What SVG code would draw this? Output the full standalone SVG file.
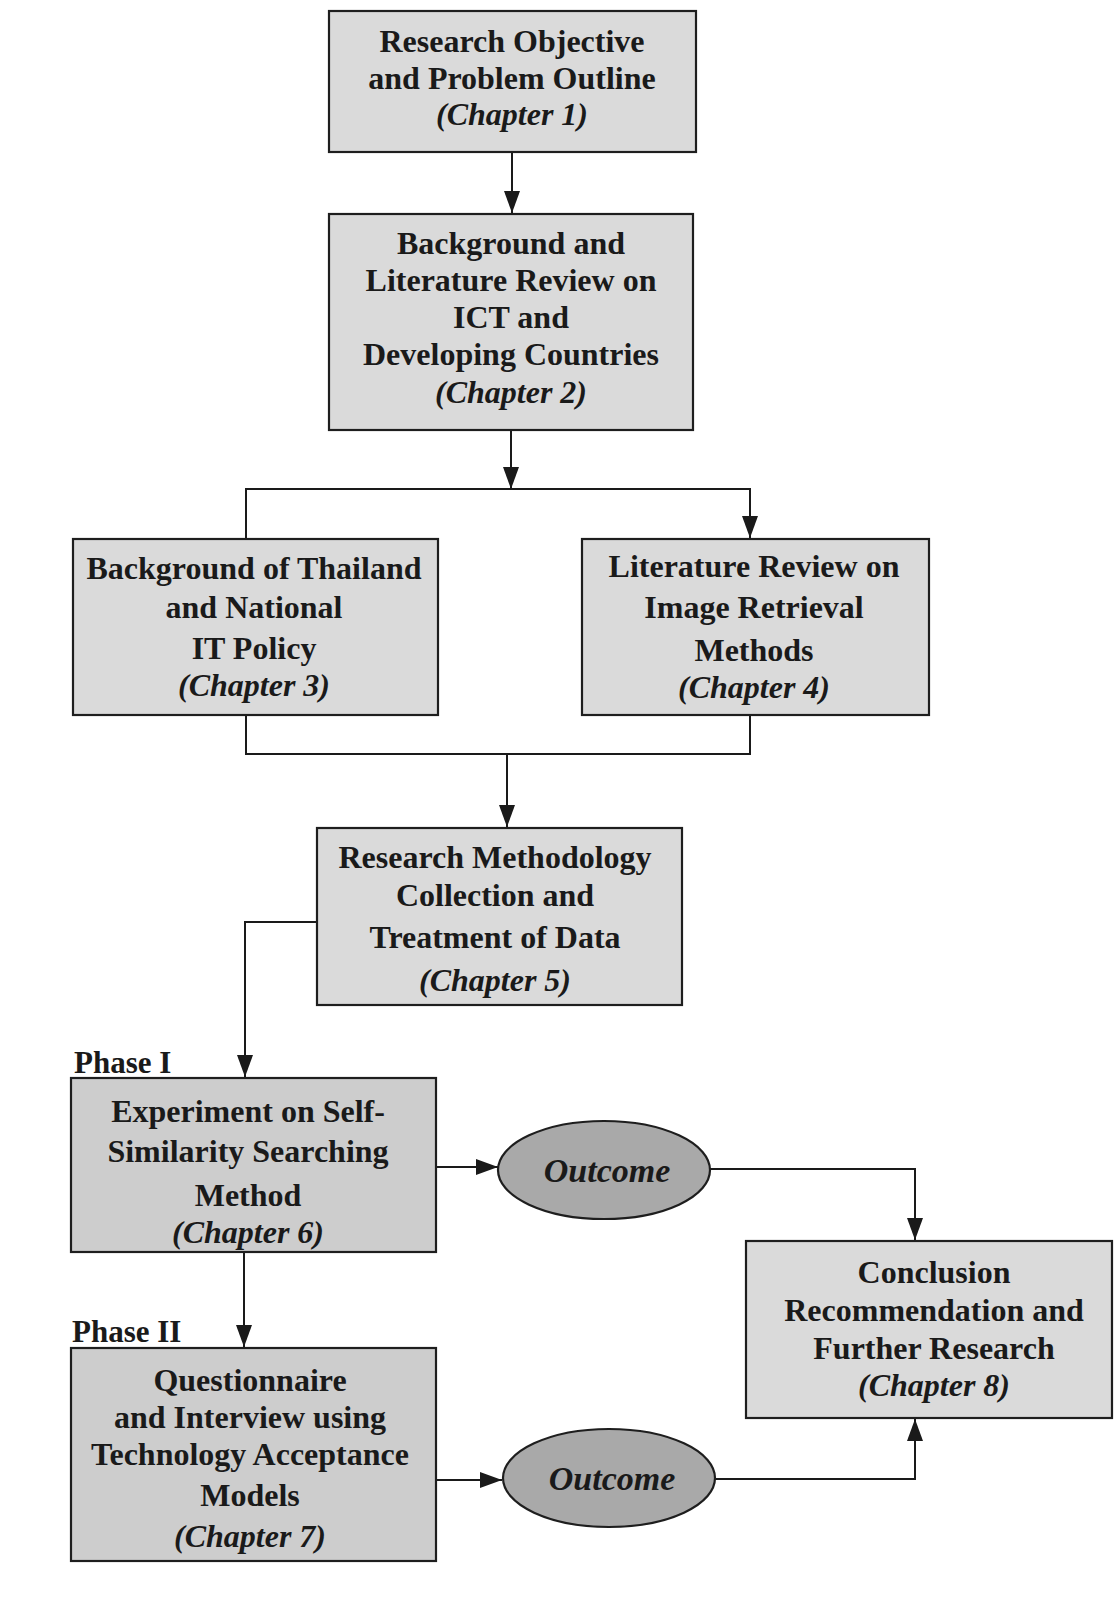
<svg xmlns="http://www.w3.org/2000/svg" width="1118" height="1613" viewBox="0 0 1118 1613">
  <style>
    .box { fill: #dadada; stroke: #1e1e1e; stroke-width: 2.2; }
    .box.dark { fill: #cdcdcd; }
    .oval { fill: #a9a9a9; stroke: #1e1e1e; stroke-width: 2.2; }
    .wire { fill: none; stroke: #1a1a1a; stroke-width: 2; }
    text { font-family: "Liberation Serif", "Times New Roman", serif; font-weight: bold; font-size: 32px; fill: #1a1a1a; text-anchor: middle; }
    .ch { font-style: italic; }
    .oc { font-style: italic; font-size: 34px; }
    .phase { text-anchor: start; font-size: 31px; }
  </style>
  <defs>
    <marker id="arrow" viewBox="0 0 22 16" refX="22" refY="8" markerWidth="22" markerHeight="16" markerUnits="userSpaceOnUse" orient="auto">
      <path d="M0,0 L22,8 L0,16 Z" fill="#1a1a1a"/>
    </marker>
  </defs>

  <rect width="1118" height="1613" fill="#ffffff"/>

  <!-- connectors -->
  <g id="connectors">
    <line class="wire" x1="512" y1="152" x2="512" y2="213" marker-end="url(#arrow)"/>
    <line class="wire" x1="511" y1="430" x2="511" y2="489" marker-end="url(#arrow)"/>
    <polyline class="wire" points="246,538 246,489 750,489 750,538" marker-start="url(#arrow)" marker-end="url(#arrow)"/>
    <polyline class="wire" points="246,715 246,754 750,754 750,715"/>
    <line class="wire" x1="507" y1="754" x2="507" y2="827" marker-end="url(#arrow)"/>
    <polyline class="wire" points="317,922 245,922 245,1077" marker-end="url(#arrow)"/>
    <line class="wire" x1="244" y1="1252" x2="244" y2="1347" marker-end="url(#arrow)"/>
    <line class="wire" x1="436" y1="1167" x2="498" y2="1167" marker-end="url(#arrow)"/>
    <polyline class="wire" points="710,1169 915,1169 915,1240" marker-end="url(#arrow)"/>
    <line class="wire" x1="436" y1="1480" x2="502" y2="1480" marker-end="url(#arrow)"/>
    <polyline class="wire" points="715,1479 915,1479 915,1419" marker-end="url(#arrow)"/>
  </g>

  <g id="ch1">
    <rect class="box" x="329" y="11" width="367" height="141"/>
    <text x="512" y="52">Research Objective</text>
    <text x="512" y="89">and Problem Outline</text>
    <text class="ch" x="512" y="125">(Chapter 1)</text>
  </g>

  <g id="ch2">
    <rect class="box" x="329" y="214" width="364" height="216"/>
    <text x="511" y="254">Background and</text>
    <text x="511" y="291">Literature Review on</text>
    <text x="511" y="328">ICT and</text>
    <text x="511" y="365">Developing Countries</text>
    <text class="ch" x="511" y="403">(Chapter 2)</text>
  </g>

  <g id="ch3">
    <rect class="box" x="73" y="539" width="365" height="176"/>
    <text x="254" y="579">Background of Thailand</text>
    <text x="254" y="618">and National</text>
    <text x="254" y="659">IT Policy</text>
    <text class="ch" x="254" y="696">(Chapter 3)</text>
  </g>

  <g id="ch4">
    <rect class="box" x="582" y="539" width="347" height="176"/>
    <text x="754" y="577">Literature Review on</text>
    <text x="754" y="618">Image Retrieval</text>
    <text x="754" y="661">Methods</text>
    <text class="ch" x="754" y="698">(Chapter 4)</text>
  </g>

  <g id="ch5">
    <rect class="box" x="317" y="828" width="365" height="177"/>
    <text x="495" y="868">Research Methodology</text>
    <text x="495" y="906">Collection and</text>
    <text x="495" y="948">Treatment of Data</text>
    <text class="ch" x="495" y="991">(Chapter 5)</text>
  </g>

  <g id="ch6">
    <text class="phase" x="74" y="1073">Phase I</text>
    <rect class="box dark" x="71" y="1078" width="365" height="174"/>
    <text x="248" y="1122">Experiment on Self-</text>
    <text x="248" y="1162">Similarity Searching</text>
    <text x="248" y="1206">Method</text>
    <text class="ch" x="248" y="1243">(Chapter 6)</text>
  </g>

  <g id="outcome1">
    <ellipse class="oval" cx="604" cy="1170" rx="106" ry="49"/>
    <text class="oc" x="607" y="1182">Outcome</text>
  </g>

  <g id="ch7">
    <text class="phase" x="72" y="1342">Phase II</text>
    <rect class="box dark" x="71" y="1348" width="365" height="213"/>
    <text x="250" y="1391">Questionnaire</text>
    <text x="250" y="1428">and Interview using</text>
    <text x="250" y="1465">Technology Acceptance</text>
    <text x="250" y="1506">Models</text>
    <text class="ch" x="250" y="1547">(Chapter 7)</text>
  </g>

  <g id="outcome2">
    <ellipse class="oval" cx="609" cy="1478" rx="106" ry="49"/>
    <text class="oc" x="612" y="1490">Outcome</text>
  </g>

  <g id="ch8">
    <rect class="box" x="746" y="1241" width="366" height="177"/>
    <text x="934" y="1283">Conclusion</text>
    <text x="934" y="1321">Recommendation and</text>
    <text x="934" y="1359">Further Research</text>
    <text class="ch" x="934" y="1396">(Chapter 8)</text>
  </g>
</svg>
